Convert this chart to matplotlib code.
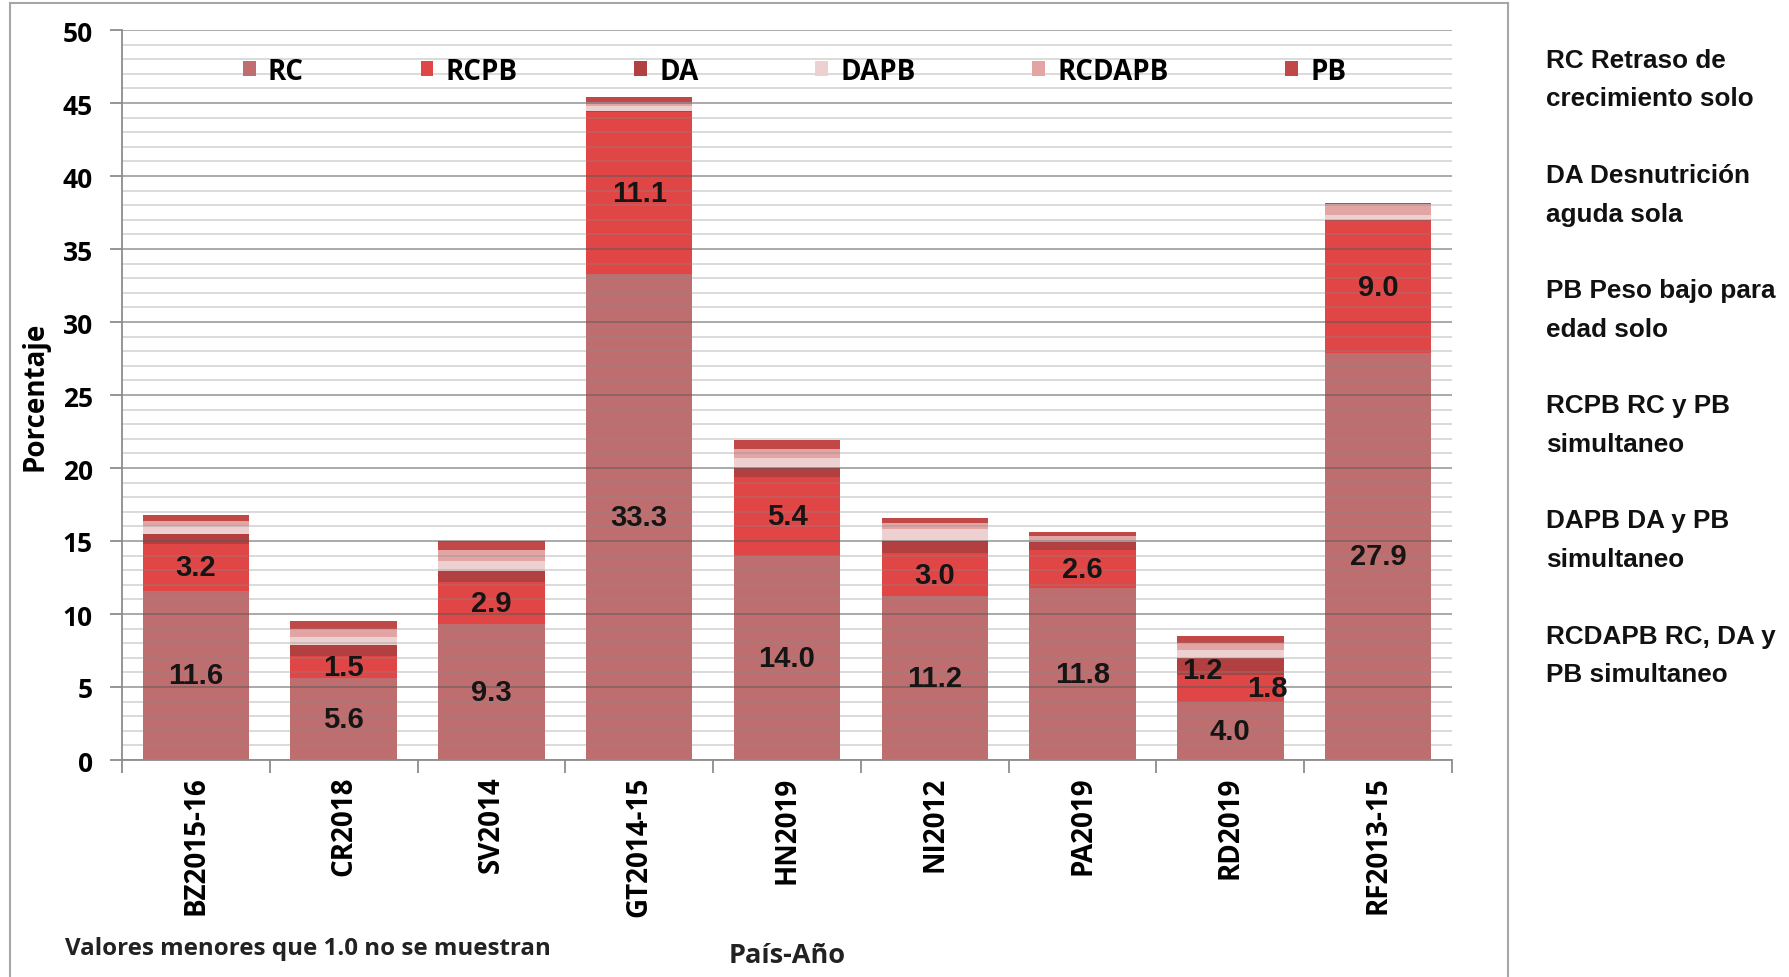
import matplotlib
matplotlib.use("Agg")
import matplotlib.pyplot as plt
from matplotlib.lines import Line2D
from matplotlib.ticker import MultipleLocator
import numpy as np

categories = ["BZ2015-16", "CR2018", "SV2014", "GT2014-15", "HN2019",
              "NI2012", "PA2019", "RD2019", "RF2013-15"]
series_names = ["RC", "RCPB", "DA", "DAPB", "RCDAPB", "PB"]
RC     = [11.6, 5.6, 9.3, 33.3, 14.0, 11.2, 11.8, 4.0, 27.9]
RCPB   = [3.2, 1.5, 2.9, 11.1, 5.4, 3.0, 2.6, 1.8, 9.0]
DA     = [0.7, 0.75, 0.75, 0.05, 0.6, 0.8, 0.5, 1.2, 0.1]
DAPB   = [0.5, 0.6, 0.7, 0.35, 0.7, 0.8, 0.2, 0.55, 0.3]
RCDAPB = [0.4, 0.5, 0.7, 0.3, 0.6, 0.45, 0.25, 0.45, 0.8]
PB     = [0.4, 0.55, 0.65, 0.3, 0.6, 0.3, 0.25, 0.5, 0.05]
series_values = [RC, RCPB, DA, DAPB, RCDAPB, PB]
colors = ["#BE6E6E", "#E14646", "#B24040", "#EDD0D0", "#E3A4A4", "#C24848"]

notes = ["RC Retraso de\ncrecimiento solo",
         "DA Desnutrición\naguda sola",
         "PB Peso bajo para\nedad solo",
         "RCPB RC y PB\nsimultaneo",
         "DAPB DA y PB\nsimultaneo",
         "RCDAPB RC, DA y\nPB simultaneo"]
footnote = "Valores menores que 1.0 no se muestran"

W, H = 1789, 978
fig = plt.figure(figsize=(W / 100, H / 100), dpi=100)
ax = fig.add_axes([122 / W, 1 - 761 / H, (1452 - 122) / W, (761 - 31) / H])

tick_font = ["Open Sans", "DejaVu Sans"]
label_font = ["Liberation Sans Narrow", "Liberation Sans", "DejaVu Sans"]

x = np.arange(len(categories))
bottom = np.zeros(len(categories))
bar_w = 0.72
label_offsets = {("RD2019", "DA"): (-0.19, -0.25), ("RD2019", "RCPB"): (0.25, 0.0)}
for name, vals, col in zip(series_names, series_values, colors):
    vals = np.array(vals)
    ax.bar(x, vals, bar_w, bottom=bottom, color=col, label=name, zorder=2, linewidth=0)
    for i, v in enumerate(vals):
        if v >= 1.0:
            dx, dy = label_offsets.get((categories[i], name), (0.0, 0.0))
            ax.text(x[i] + dx, bottom[i] + v / 2 + dy, f"{v:.1f}", ha="center", va="center",
                    fontsize=21, fontweight="bold", family=label_font, color="#151515", zorder=5)
    bottom += vals

ax.set_xlim(-0.5, len(categories) - 0.5)
ax.set_ylim(0, 50)
ax.yaxis.set_major_locator(MultipleLocator(5))
ax.yaxis.set_minor_locator(MultipleLocator(1))
ax.grid(which="major", axis="y", color="#5a5a5a", alpha=0.55, linewidth=1.3, zorder=3)
ax.grid(which="minor", axis="y", color="#8a8a8a", alpha=0.4, linewidth=1.1, zorder=3)
ax.set_axisbelow(False)

for s in ["top", "right"]:
    ax.spines[s].set_visible(False)
for s in ["left", "bottom"]:
    ax.spines[s].set_color("#8c8c8c")
    ax.spines[s].set_linewidth(1.3)
    ax.spines[s].set_zorder(4)

ax.set_xticks(x)
ax.set_xticklabels(categories, rotation=90, fontsize=20, fontweight="bold", family=tick_font)
ax.set_xticks(np.arange(-0.5, len(categories)), minor=True)
ax.tick_params(axis="x", which="major", length=0, pad=11)
ax.tick_params(axis="x", which="minor", length=9, width=1.3, color="#8c8c8c", direction="out")
ax.tick_params(axis="y", which="major", length=9, width=1.3, color="#8c8c8c", pad=12, labelsize=19)
ax.tick_params(axis="y", which="minor", length=0)
for lab in ax.get_yticklabels():
    lab.set_fontweight("bold")
    lab.set_family(tick_font)

ax.set_ylabel("Porcentaje", fontsize=20, fontweight="bold", family=tick_font)
ax.yaxis.set_label_coords((50 - 122) / 1330, 0.5)

leg = ax.legend(loc="center left", bbox_to_anchor=((243 - 122) / 1330, 1 - 41 / 730), ncol=6,
                frameon=False, handlelength=0.45, handleheight=0.45,
                handletextpad=0.45, columnspacing=4.2, borderpad=0, borderaxespad=0,
                prop={"family": tick_font, "weight": "bold", "size": 20})

# right-side notes
for k, t in enumerate(notes):
    yc = 80 + k * 115.2
    fig.text(1546 / W, 1 - yc / H, t, ha="left", va="center", fontsize=18.8, fontweight="bold",
             family=label_font, color="#111111", linespacing=1.78)

fig.text(65 / W, 1 - 949 / H, footnote, ha="left", va="center", fontsize=17.4,
         fontweight="bold", family=tick_font, color="#222222")
fig.text(787 / W, 1 - 956 / H, "País-Año", ha="center", va="center", fontsize=19.5,
         fontweight="bold", family=tick_font, color="#222222")

# outer chart border
bc = "#a6a6a6"
fig.add_artist(Line2D([10 / W, 10 / W], [0, 1 - 4 / H], color=bc, lw=1.5, transform=fig.transFigure))
fig.add_artist(Line2D([10 / W, 1508 / W], [1 - 4 / H, 1 - 4 / H], color=bc, lw=1.5, transform=fig.transFigure))
fig.add_artist(Line2D([1508 / W, 1508 / W], [0, 1 - 4 / H], color=bc, lw=1.5, transform=fig.transFigure))

fig.savefig("out.png", dpi=100, facecolor="white")
